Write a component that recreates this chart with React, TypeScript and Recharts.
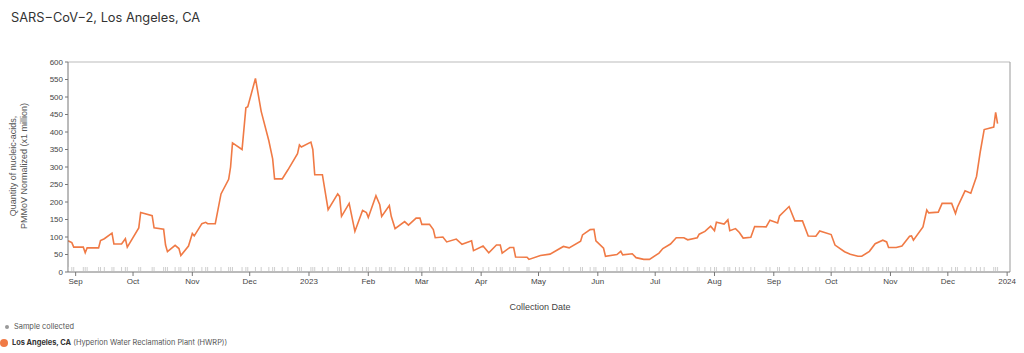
import React from "react";
import {
  ComposedChart,
  Line,
  Scatter,
  XAxis,
  YAxis,
  ReferenceLine,
} from "recharts";

const sampleDates: string[] = [
  "2022-08-28", "2022-08-30", "2022-08-31", "2022-09-05", "2022-09-06", "2022-09-07",
  "2022-09-13", "2022-09-14", "2022-09-16", "2022-09-20", "2022-09-21", "2022-09-25",
  "2022-09-27", "2022-09-28", "2022-10-04", "2022-10-05", "2022-10-11", "2022-10-12",
  "2022-10-17", "2022-10-18", "2022-10-19", "2022-10-23", "2022-10-25", "2022-10-26",
  "2022-10-30", "2022-11-01", "2022-11-02", "2022-11-06", "2022-11-08", "2022-11-09",
  "2022-11-13", "2022-11-16", "2022-11-20", "2022-11-21", "2022-11-22", "2022-11-27",
  "2022-11-29", "2022-11-30", "2022-12-04", "2022-12-07", "2022-12-11", "2022-12-13",
  "2022-12-14", "2022-12-18", "2022-12-21", "2022-12-26", "2022-12-27", "2022-12-28",
  "2023-01-02", "2023-01-03", "2023-01-04", "2023-01-08", "2023-01-11", "2023-01-16",
  "2023-01-17", "2023-01-18", "2023-01-22", "2023-01-25", "2023-01-29", "2023-01-31",
  "2023-02-01", "2023-02-05", "2023-02-07", "2023-02-08", "2023-02-12", "2023-02-13",
  "2023-02-15", "2023-02-20", "2023-02-22", "2023-02-26", "2023-02-28", "2023-03-01",
  "2023-03-05", "2023-03-07", "2023-03-08", "2023-03-12", "2023-03-14", "2023-03-19",
  "2023-03-22", "2023-03-27", "2023-03-28", "2023-04-02", "2023-04-05", "2023-04-09",
  "2023-04-11", "2023-04-12", "2023-04-16", "2023-04-18", "2023-04-19", "2023-04-25",
  "2023-04-26", "2023-05-02", "2023-05-07", "2023-05-14", "2023-05-17", "2023-05-23",
  "2023-05-24", "2023-05-28", "2023-05-30", "2023-05-31", "2023-06-04", "2023-06-05",
  "2023-06-11", "2023-06-13", "2023-06-14", "2023-06-19", "2023-06-21", "2023-06-25",
  "2023-06-28", "2023-07-03", "2023-07-05", "2023-07-09", "2023-07-12", "2023-07-16",
  "2023-07-18", "2023-07-23", "2023-07-24", "2023-07-27", "2023-07-30", "2023-08-01",
  "2023-08-02", "2023-08-06", "2023-08-08", "2023-08-09", "2023-08-12", "2023-08-14",
  "2023-08-16", "2023-08-20", "2023-08-22", "2023-08-28", "2023-08-30", "2023-09-03",
  "2023-09-04", "2023-09-09", "2023-09-12", "2023-09-16", "2023-09-19", "2023-09-23",
  "2023-09-25", "2023-10-01", "2023-10-03", "2023-10-08", "2023-10-11", "2023-10-15",
  "2023-10-17", "2023-10-21", "2023-10-24", "2023-10-28", "2023-10-30", "2023-10-31",
  "2023-11-04", "2023-11-07", "2023-11-11", "2023-11-12", "2023-11-13", "2023-11-18",
  "2023-11-20", "2023-11-21", "2023-11-26", "2023-11-28", "2023-12-03", "2023-12-05",
  "2023-12-06", "2023-12-10", "2023-12-13", "2023-12-16", "2023-12-18", "2023-12-20",
  "2023-12-25", "2023-12-26", "2023-12-27",
];

const sampleValues: number[] = [
  89, 84, 71, 71, 55, 69,
  69, 90, 95, 111, 80, 80,
  95, 71, 126, 170, 161, 126,
  122, 77, 58, 76, 67, 47,
  74, 110, 103, 138, 142, 138,
  138, 223, 265, 300, 369, 350,
  469, 472, 553, 459, 375, 323,
  266, 266, 292, 338, 363, 357,
  371, 350, 278, 278, 178, 223,
  216, 159, 196, 116, 176, 170,
  156, 218, 192, 159, 190, 159,
  124, 144, 134, 154, 154, 136,
  136, 121, 98, 100, 86, 94,
  79, 89, 61, 74, 55, 77,
  77, 54, 70, 70, 43, 42,
  36, 47, 51, 73, 69, 88,
  106, 121, 122, 89, 68, 45,
  50, 59, 49, 52, 41, 36,
  36, 54, 67, 80, 98, 98,
  92, 98, 108, 116, 131, 118,
  142, 137, 149, 118, 124, 113,
  97, 99, 130, 129, 148, 140,
  160, 187, 146, 146, 103, 102,
  117, 107, 77, 58, 51, 45,
  45, 59, 81, 91, 86, 70,
  70, 74, 102, 103, 91, 129,
  177, 169, 171, 196, 196, 167,
  185, 232, 225, 273, 345, 407,
  414, 456, 424,
];

const monthTickDates: string[] = [
  "2022-09-01", "2022-10-01", "2022-11-01", "2022-12-01", "2023-01-01", "2023-02-01",
  "2023-03-01", "2023-04-01", "2023-05-01", "2023-06-01", "2023-07-01", "2023-08-01",
  "2023-09-01", "2023-10-01", "2023-11-01", "2023-12-01", "2024-01-01",
];
const monthTickLabels: string[] = [
  "Sep", "Oct", "Nov", "Dec", "2023", "Feb", "Mar", "Apr", "May", "Jun", "Jul", "Aug",
  "Sep", "Oct", "Nov", "Dec", "2024",
];
const yTicks: number[] = [0, 50, 100, 150, 200, 250, 300, 350, 400, 450, 500, 550, 600];

const toTs = (d: string) => new Date(d + "T00:00:00Z").getTime();
const xMin = toTs("2022-08-28");
const xMax = toTs("2024-01-02") + 12 * 3600 * 1000;

const lineData = sampleDates.map((d, i) => ({ t: toTs(d), v: sampleValues[i] }));
const rugData = sampleDates.map((d) => ({ t: toTs(d), r: 0 }));
const monthTicks = monthTickDates.map(toTs);
const labelFor = (ts: number) => {
  const i = monthTicks.indexOf(ts);
  return i >= 0 ? monthTickLabels[i] : "";
};

const AXIS_FONT = "'Liberation Sans', Arial, sans-serif";
const UI_FONT = "Inter, 'Noto Sans', sans-serif";

const RugTick = (props: any) => {
  const { cx, cy } = props;
  if (cx == null || cy == null) return null;
  return <line x1={cx} x2={cx} y1={cy - 1} y2={cy - 5} stroke="#cfcfcf" strokeWidth={1} />;
};

const YLabel = () => (
  <text
    transform="translate(16,166) rotate(-90)"
    textAnchor="middle"
    fontSize={9}
    fill="#555"
    fontFamily={AXIS_FONT}
  >
    <tspan x={0} dy={0}>Quantity of nucleic-acids,</tspan>
    <tspan x={0} dy={11}>PMMoV Normalized (x1 million)</tspan>
  </text>
);

export default function App() {
  return (
    <div
      style={{
        position: "absolute",
        left: 0,
        top: 0,
        width: 1024,
        height: 353,
        background: "#fff",
        overflow: "hidden",
      }}
    >
      <div
        style={{
          position: "absolute",
          left: 11,
          top: 10,
          fontFamily: UI_FONT,
          fontSize: 12.8,
          color: "#333",
          whiteSpace: "nowrap",
        }}
      >
        SARS−CoV−2, Los Angeles, CA
      </div>
      <div style={{ position: "absolute", left: 0, top: 0 }}>
        <ComposedChart
          width={1024}
          height={320}
          data={lineData}
          margin={{ top: 62, right: 14, left: 28, bottom: 8 }}
        >
          <XAxis
            dataKey="t"
            type="number"
            domain={[xMin, xMax]}
            ticks={monthTicks}
            tickFormatter={labelFor}
            allowDataOverflow
            height={40}
            tickSize={4}
            tick={{ fontSize: 8, fill: "#444", fontFamily: AXIS_FONT }}
            stroke="#777"
            interval={0}
          />
          <YAxis
            type="number"
            domain={[0, 600]}
            ticks={yTicks}
            width={40}
            tickSize={3}
            interval={0}
            tick={{ fontSize: 8, fill: "#444", fontFamily: AXIS_FONT }}
            stroke="#777"
            label={<YLabel />}
          />
          <ReferenceLine y={600} stroke="#bbb" strokeWidth={1} ifOverflow="extendDomain" />
          <ReferenceLine x={xMax} stroke="#999" strokeWidth={1} />
          <Scatter
            data={rugData}
            dataKey="r"
            shape={<RugTick />}
            isAnimationActive={false}
          />
          <Line
            type="linear"
            dataKey="v"
            stroke="#F07A45"
            strokeWidth={1.6}
            dot={false}
            activeDot={false}
            isAnimationActive={false}
          />
        </ComposedChart>
      </div>
      <div
        style={{
          position: "absolute",
          left: 0,
          width: 1024,
          top: 302,
          textAlign: "center",
          fontFamily: AXIS_FONT,
          fontSize: 9,
          color: "#444",
          paddingLeft: 56,
          boxSizing: "border-box",
        }}
      >
        Collection Date
      </div>
      <div
        style={{
          position: "absolute",
          left: 5,
          top: 325,
          width: 4,
          height: 4,
          borderRadius: 2,
          background: "#999",
        }}
      />
      <div
        style={{
          position: "absolute",
          left: 14,
          top: 322,
          fontFamily: UI_FONT,
          fontSize: 7.4,
          color: "#555",
          whiteSpace: "nowrap",
        }}
      >
        Sample collected
      </div>
      <div
        style={{
          position: "absolute",
          left: 0,
          top: 339,
          width: 8,
          height: 8,
          borderRadius: 4,
          background: "#F07A45",
        }}
      />
      <div
        style={{
          position: "absolute",
          left: 12,
          top: 338,
          fontFamily: UI_FONT,
          fontSize: 7.4,
          color: "#555",
          whiteSpace: "nowrap",
        }}
      >
        <span style={{ fontWeight: 700, color: "#333" }}>Los Angeles, CA</span> (Hyperion Water
        Reclamation Plant (HWRP))
      </div>
    </div>
  );
}
